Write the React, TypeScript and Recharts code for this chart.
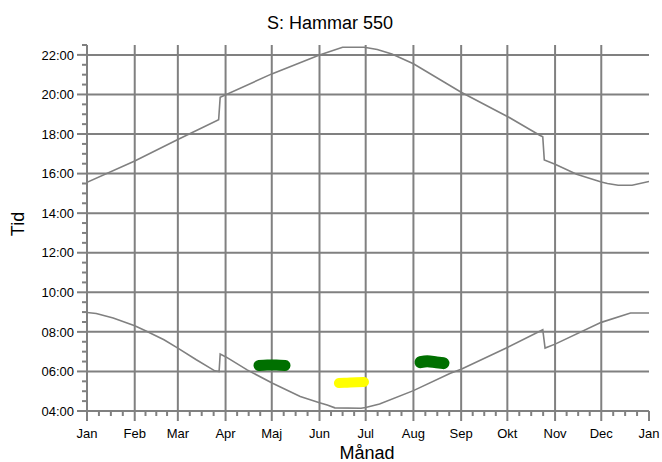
import React from "react";
import { LineChart, Line, XAxis, YAxis, ReferenceLine } from "recharts";

// month starts as day of year, last entry is the closing Jan
const monthLabels = ["Jan", "Feb", "Mar", "Apr", "Maj", "Jun", "Jul", "Aug", "Sep", "Okt", "Nov", "Dec", "Jan"];
const monthDays = [0, 31, 59, 90, 120, 151, 181, 212, 243, 273, 304, 334, 365];

const hourTicks = [4, 6, 8, 10, 12, 14, 16, 18, 20, 22];
const gridHours = [6, 8, 10, 12, 14, 16, 18, 20, 22];

// sunset (upper curve), hours
const sunsetDays = [0, 31, 59, 85.5, 86.5, 120, 151, 166, 180, 181, 188.5, 198, 212, 243, 273, 294, 296, 297, 304, 318, 334, 338, 345, 354, 365];
const sunsetHours = [15.56, 16.64, 17.72, 18.72, 19.86, 21.04, 22.0, 22.39, 22.39, 22.37, 22.27, 22.05, 21.55, 20.11, 18.89, 17.94, 17.86, 16.69, 16.47, 15.97, 15.58, 15.5, 15.41, 15.41, 15.6];

// sunrise (lower curve), hours
const sunriseDays = [0, 6, 17, 31, 38, 50, 59, 71, 83, 85.8, 86.5, 90.5, 104, 120.5, 138.5, 151, 156, 161, 178, 181, 190, 212, 236, 243, 273, 296, 297.5, 304, 334, 353, 365];
const sunriseHours = [8.98, 8.93, 8.7, 8.31, 8.06, 7.6, 7.18, 6.59, 6.03, 5.99, 6.88, 6.72, 6.08, 5.4, 4.73, 4.42, 4.3, 4.16, 4.14, 4.18, 4.35, 5.03, 5.91, 6.11, 7.21, 8.11, 7.18, 7.38, 8.48, 8.95, 8.95];

// observation blobs
const green1Days = [111.7, 117, 123, 128.6];
const green1Hours = [6.3, 6.33, 6.33, 6.3];
const green2Days = [216.6, 221, 227, 231.5];
const green2Hours = [6.47, 6.52, 6.46, 6.42];
const yellowDays = [163.6, 169, 175, 179.9];
const yellowHours = [5.41, 5.43, 5.45, 5.47];

const GRAY = "#808080";
const FONT = "'Liberation Sans', Arial, sans-serif";

const toPoints = (days: number[], hours: number[]) =>
  days.map((d, i) => ({ day: d, hour: hours[i] }));

const xTicks: number[] = [];
monthDays.slice(0, 12).forEach((d, i) => {
  const q = (monthDays[i + 1] - d) / 4;
  xTicks.push(d, d + q, d + 2 * q, d + 3 * q);
});
xTicks.push(365);

const yTicks: number[] = [];
for (let h = 4; h <= 22.5; h += 0.5) yTicks.push(h);

const XTick = ({ x, y, payload }: any) => {
  const idx = monthDays.indexOf(payload.value);
  const major = idx >= 0;
  return (
    <g>
      <line x1={x} y1={y} x2={x} y2={y + (major ? 10 : 5)} stroke={GRAY} strokeWidth={2} />
      {major && (
        <text x={x} y={y + 27} textAnchor="middle" fontSize={13} fontFamily={FONT} fill="#000">
          {monthLabels[idx]}
        </text>
      )}
    </g>
  );
};

const YTick = ({ x, y, payload }: any) => {
  const major = hourTicks.includes(payload.value);
  const hh = String(payload.value).padStart(2, "0");
  return (
    <g>
      <line x1={x - (major ? 10 : 5)} y1={y} x2={x} y2={y} stroke={GRAY} strokeWidth={2} />
      {major && (
        <text x={x - 13} y={y} dy="0.36em" textAnchor="end" fontSize={13} fontFamily={FONT} fill="#000">
          {hh}:00
        </text>
      )}
    </g>
  );
};

export default function App() {
  return (
    <div style={{ position: "absolute", left: 0, top: 0, width: 662, height: 462, background: "#fff" }}>
      <LineChart width={662} height={462} margin={{ top: 45, right: 13, bottom: 21, left: 0 }}>
        <XAxis
          type="number"
          dataKey="day"
          domain={[0, 365]}
          ticks={xTicks}
          interval={0}
          tick={<XTick />}
          tickLine={false}
          tickSize={0}
          tickMargin={0}
          height={30}
          axisLine={{ stroke: GRAY, strokeWidth: 2 }}
          allowDataOverflow
        />
        <YAxis
          type="number"
          dataKey="hour"
          domain={[4, 22.5]}
          ticks={yTicks}
          interval={0}
          tick={<YTick />}
          tickLine={false}
          tickSize={0}
          tickMargin={0}
          width={87}
          axisLine={{ stroke: GRAY, strokeWidth: 2 }}
          allowDataOverflow
        />
        {monthDays.slice(1, 12).map((d) => (
          <ReferenceLine key={"v" + d} x={d} stroke={GRAY} strokeWidth={2} />
        ))}
        {gridHours.map((h) => (
          <ReferenceLine key={"h" + h} y={h} stroke={GRAY} strokeWidth={2} />
        ))}
        <Line data={toPoints(sunsetDays, sunsetHours)} dataKey="hour" type="linear" stroke={GRAY} strokeWidth={1.6} dot={false} isAnimationActive={false} />
        <Line data={toPoints(sunriseDays, sunriseHours)} dataKey="hour" type="linear" stroke={GRAY} strokeWidth={1.6} dot={false} isAnimationActive={false} />
        <Line data={toPoints(green1Days, green1Hours)} dataKey="hour" type="monotone" stroke="#007000" strokeWidth={11} strokeLinecap="round" dot={false} isAnimationActive={false} />
        <Line data={toPoints(green2Days, green2Hours)} dataKey="hour" type="monotone" stroke="#007000" strokeWidth={12} strokeLinecap="round" dot={false} isAnimationActive={false} />
        <Line data={toPoints(yellowDays, yellowHours)} dataKey="hour" type="monotone" stroke="#ffff00" strokeWidth={10} strokeLinecap="round" dot={false} isAnimationActive={false} />
      </LineChart>
      <svg width={662} height={462} style={{ position: "absolute", left: 0, top: 0, pointerEvents: "none" }}>
        <text x={330} y={29} textAnchor="middle" fontSize={18} fontFamily={FONT} fill="#000">
          S: Hammar 550
        </text>
        <text x={0} y={0} transform="translate(24 224) rotate(-90)" textAnchor="middle" fontSize={18} fontFamily={FONT} fill="#000">
          Tid
        </text>
        <text x={367} y={459} textAnchor="middle" fontSize={18} fontFamily={FONT} fill="#000">
          Månad
        </text>
      </svg>
    </div>
  );
}
